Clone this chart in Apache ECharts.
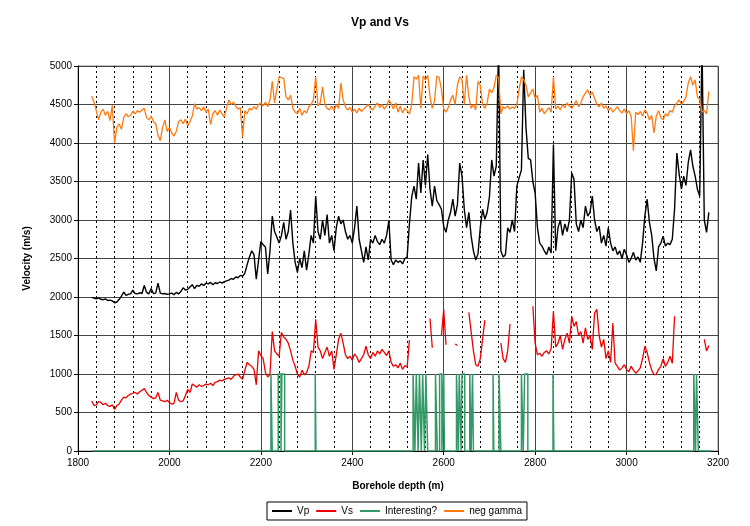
<!DOCTYPE html>
<html><head><meta charset="utf-8">
<script src="https://cdn.jsdelivr.net/npm/echarts@6/dist/echarts.min.js"></script>
<style>html,body{margin:0;padding:0;background:#fff}#c{width:750px;height:526px}</style>
</head><body><div id="c"></div>
<script>
// Depth sampling of the logs (m)
const depthStart = 1830, depthStep = 5;

// Vp (m/s), one value every 5 m from 1830 m
const vp = [
  1995,1985,1975,1990,1970,1965,1975,1955,1960,1950,
  1925,1935,1970,2010,2065,2020,2035,2040,2090,2045,
  2040,2055,2045,2150,2060,2040,2110,2045,2050,2180,
  2050,2040,2045,2035,2040,2050,2030,2060,2040,2070,
  2120,2090,2100,2130,2160,2110,2150,2140,2170,2150,
  2180,2170,2190,2160,2185,2175,2195,2180,2200,2210,
  2220,2240,2230,2260,2250,2280,2270,2310,2420,2520,
  2600,2550,2230,2480,2720,2680,2650,2300,2600,3050,
  2850,2780,2700,2800,2970,2750,2850,3130,2700,2450,
  2320,2500,2380,2600,2350,2550,2800,2700,3310,2850,
  2750,3000,2800,3070,2700,2800,2600,2900,3050,2950,
  3000,2850,2750,2800,2700,2900,3180,2750,2600,2450,
  2650,2480,2750,2700,2800,2720,2680,2750,2700,2800,
  2990,2480,2420,2480,2450,2470,2430,2500,2520,2950,
  3300,3440,3270,3740,3350,3780,3450,3850,3400,3180,
  3440,3250,3200,3140,2920,2840,3000,3100,3270,3050,
  3200,3740,3570,3140,2900,3100,2790,2600,2480,2560,
  2900,3140,3010,3100,3300,3780,3570,3700,5300,2600,
  2520,2550,2900,2840,3000,2850,3440,3550,3650,4950,
  4200,3800,3780,3500,3350,2900,2700,2660,2600,2550,
  2650,2570,3980,2600,2900,3000,2800,2950,2850,3000,
  3610,3530,2950,2850,3000,2900,3180,3050,3100,3310,
  3000,2850,2920,2700,2800,2660,2900,2700,2600,2650,
  2550,2600,2500,2620,2550,2450,2500,2580,2480,2520,
  2450,2700,3050,3270,2970,2800,2500,2340,2650,2700,
  2790,2660,2700,2680,2750,3140,3870,3600,3400,3570,
  3450,3750,3910,3700,3570,3400,3310,5300,3000,2840,3100
];

// Vs (m/s), null where no reading
const vs = [
  650,590,600,640,630,600,620,590,580,600,
  540,590,610,660,700,690,720,740,750,760,
  740,770,790,810,760,720,700,680,690,760,
  660,650,640,660,630,610,620,760,660,640,
  650,720,800,760,870,850,830,860,840,850,
  870,860,880,850,890,900,920,910,930,940,
  950,930,970,990,1000,960,930,1050,1150,1120,
  1100,1060,860,1300,1240,1200,1020,960,1000,1550,
  1300,1260,1230,1540,1480,1450,1400,1300,1180,1100,
  1000,960,1050,990,1020,1100,1300,1280,1710,1350,
  1300,1200,1280,1350,1230,1300,1060,1250,1450,1530,
  1400,1250,1200,1230,1180,1260,1220,1150,1200,1250,
  1360,1250,1200,1280,1230,1300,1260,1320,1280,1240,
  1300,1150,1100,1120,1080,1140,1060,1110,1090,1440,
  null,null,null,null,null,null,null,null,1720,1340,
  null,null,null,1500,1840,1380,null,null,null,1390,
  1370,null,null,null,null,1800,1550,1300,1120,1100,
  1200,1450,1700,null,null,null,null,null,null,1400,
  1200,1150,1300,1650,null,null,null,null,null,null,
  null,null,null,1880,1400,1250,1270,1230,1280,1300,
  1260,1330,1815,1350,1400,1500,1320,1450,1530,1400,
  1750,1620,1680,1500,1550,1400,1600,1450,1500,1320,
  1790,1840,1500,1350,1450,1200,1300,1150,1660,1140,
  1100,1050,1080,1120,1060,1030,1100,1050,1010,1040,
  1080,1200,1360,1280,1150,1050,990,1000,1060,1100,
  1200,1100,1150,1230,1140,1750,null,null,null,null,
  null,null,null,null,null,null,null,null,1450,1300,1370
];

// neg gamma (plotted on the velocity scale)
const negGamma = [
  4610,4530,4420,4300,4400,4440,4360,4410,4290,4490,
  4000,4200,4250,4180,4330,4380,4340,4360,4410,4380,
  4420,4400,4430,4450,4330,4300,4350,4280,4250,4100,
  4030,4200,4300,4150,4200,4130,4090,4150,4280,4300,
  4250,4310,4220,4280,4350,4510,4440,4460,4420,4470,
  4400,4440,4240,4380,4420,4360,4430,4380,4340,4450,
  4560,4500,4530,4480,4440,4460,4080,4420,4380,4450,
  4430,4470,4440,4500,4520,4480,4530,4470,4560,4800,
  4520,4700,4860,4850,4840,4600,4560,4620,4450,4400,
  4380,4450,4360,4420,4390,4470,4500,4560,4860,4480,
  4520,4730,4500,4450,4430,4480,4420,4500,4450,4780,
  4560,4470,4430,4460,4400,4440,4390,4450,4410,4440,
  4470,4500,4450,4430,4480,4520,4460,4500,4440,4480,
  4560,4510,4440,4520,4400,4480,4390,4450,4420,4380,
  4500,4860,4830,4880,4450,4870,4820,4880,4600,4450,
  4550,4870,4850,4700,4440,4400,4460,4560,4620,4500,
  4750,4860,4820,4500,4880,4600,4450,4500,4430,4800,
  4750,4500,4450,4520,4700,4650,4720,4880,4850,4380,
  4470,4450,4480,4440,4470,4450,4500,4700,4860,4820,
  4750,4600,4650,4700,4580,4620,4400,4450,4380,4420,
  4460,4400,4860,4440,4480,4430,4500,4460,4520,4480,
  4450,4500,4550,4470,4520,4600,4650,4690,4620,4660,
  4580,4500,4470,4520,4450,4480,4420,4460,4400,4440,
  4470,4420,4390,4440,4380,4420,4350,3900,4400,4370,
  4410,4350,4430,4390,4300,4360,4130,4350,4420,4330,
  4300,4380,4350,4420,4400,4480,4520,4560,4500,4540,
  4600,4780,4860,4750,4820,4600,4560,4400,4420,4380,4670
];

// "Interesting?" flag: depth intervals (m) where the flag is on
const interestingStart = [2222,2238,2246,2319,2533,2540,2547,2554,2561,2582,2591,2600,2628,2634,2640,2657,2663,2708,2721,2770,2777,2839,3147,3153];
const interestingEnd   = [2225,2244,2252,2320.5,2537,2544,2551,2558,2565,2586,2596,2601.5,2632,2638,2646,2660,2665,2709.5,2725,2774,2784,2841,3151,3157];
const interestingOn = 1000, interestingOff = 0;
const interestingExtent = [1832, 3185];

// Axis scales
const xMin = 1800, xMax = 3200, xStep = 200;
const yMin = 0, yMax = 5000, yStep = 500;

const toPairs = arr => arr.map((v, i) => [depthStart + i * depthStep, v]);
const flagData = [[interestingExtent[0], interestingOff]];
interestingStart.forEach((s, i) => {
  const e = interestingEnd[i];
  flagData.push([s, interestingOff], [s, interestingOn], [e, interestingOn], [e, interestingOff]);
});
flagData.push([interestingExtent[1], interestingOff]);

const FONT = 'Liberation Sans, Arial, sans-serif';
const plain = v => String(v);
const chart = echarts.init(document.getElementById('c'), null, {renderer: 'canvas'});
chart.setOption({
  animation: false,
  backgroundColor: '#fff',
  textStyle: {fontFamily: FONT},
  title: {
    text: 'Vp and Vs', left: 380, textAlign: 'center', top: 17, padding: 0,
    textStyle: {fontSize: 12, fontWeight: 'bold', color: '#000', fontFamily: FONT}
  },
  grid: {left: 78, right: 32, top: 66, bottom: 75, show: true, borderColor: '#888', borderWidth: 1, backgroundColor: 'transparent'},
  legend: {
    left: 267, top: 502, padding: [4, 5], itemGap: 7, itemWidth: 20, itemHeight: 2,
    icon: 'rect', borderColor: '#000', borderWidth: 1,
    textStyle: {fontSize: 10, color: '#000', fontFamily: FONT},
    data: ['Vp', 'Vs', 'Interesting?', 'neg gamma']
  },
  xAxis: {
    type: 'value', min: xMin, max: xMax, interval: xStep,
    name: 'Borehole depth (m)', nameLocation: 'middle', nameGap: 30,
    nameTextStyle: {fontSize: 10, fontWeight: 'bold', color: '#000', fontFamily: FONT},
    axisLine: {show: true, onZero: false, lineStyle: {color: '#000', width: 1}},
    axisTick: {show: true, length: 4, lineStyle: {color: '#000'}},
    axisLabel: {fontSize: 10, color: '#000', margin: 7, fontFamily: FONT, formatter: plain},
    splitLine: {show: true, lineStyle: {color: '#444', width: 1}},
    minorTick: {show: false, splitNumber: 5},
    minorSplitLine: {show: true, lineStyle: {color: '#000', width: 1, type: [2, 3]}}
  },
  yAxis: {
    type: 'value', min: yMin, max: yMax, interval: yStep,
    name: 'Velocity (m/s)', nameLocation: 'middle', nameGap: 46,
    nameTextStyle: {fontSize: 10, fontWeight: 'bold', color: '#000', fontFamily: FONT},
    axisLine: {show: true, lineStyle: {color: '#000', width: 1}},
    axisTick: {show: true, length: 4, lineStyle: {color: '#000'}},
    axisLabel: {fontSize: 10, color: '#000', margin: 6, fontFamily: FONT, formatter: plain},
    splitLine: {show: true, lineStyle: {color: '#444', width: 1}}
  },
  series: [
    {name: 'Vp', type: 'line', data: toPairs(vp), showSymbol: false, color: '#000',
     lineStyle: {width: 1.4, color: '#000'}, z: 3},
    {name: 'Vs', type: 'line', data: toPairs(vs), showSymbol: false, color: '#ee0000',
     lineStyle: {width: 1.3, color: '#ee0000'}, z: 3},
    {name: 'Interesting?', type: 'line', data: flagData, showSymbol: false, color: '#339966',
     lineStyle: {width: 1.5, color: '#339966'}, z: 4},
    {name: 'neg gamma', type: 'line', data: toPairs(negGamma), showSymbol: false, color: '#ff7a10',
     lineStyle: {width: 1.3, color: '#ff7a10'}, z: 3}
  ]
});
</script>
</body></html>
